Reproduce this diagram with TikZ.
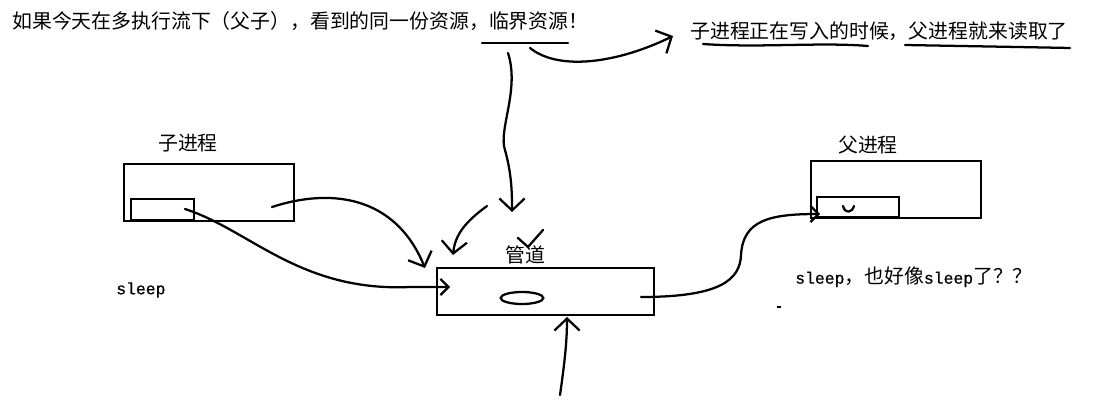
\documentclass[tikz,border=0pt]{standalone}
\usepackage{fontspec}
\newfontfamily\cjk{Noto Sans CJK SC}
\newfontfamily\lat{Liberation Mono}[FakeBold=0.8]
\usetikzlibrary{arrows.meta,fit,shapes.geometric}
\begin{document}
\begin{tikzpicture}[x=0.75pt,y=-0.75pt,
  box/.style={draw, line width=1.4pt, inner sep=0pt},
  lbl/.style={inner sep=0pt, font=\cjk\fontsize{14.9pt}{16pt}\selectfont},
  sl/.style={inner sep=0pt, font=\lat\fontsize{12.3pt}{14pt}\selectfont},
  pen/.style={line width=1.7pt, line cap=round, line join=round},
  bigtip/.style={pen, -{Straight Barb[length=9pt,width=19pt]}},
  smalltip/.style={pen, -{Straight Barb[length=6pt,width=12pt]}}]
\useasboundingbox[fill=white] (0,0) rectangle (1093,407);

% texts
\node[lbl, anchor=west] (top) at (12,21) {如果今天在多执行流下（父子），看到的同一份资源，临界资源！};
\node[lbl, anchor=west] (note) at (690,31) {子进程正在写入的时候，父进程就来读取了};
\node[sl, anchor=west] (sleepL) at (116,290) {sleep};
\node[inner sep=0pt, anchor=west] (sleepR) at (795,277) {{\lat\fontsize{12.3pt}{14pt}\selectfont sleep}{\cjk\fontsize{14.9pt}{16pt}\selectfont ，也好像}{\lat\fontsize{12.3pt}{14pt}\selectfont sleep}{\cjk\fontsize{14.9pt}{16pt}\selectfont 了？？}};

% boxes
\node[box, fit={(124,164) (294,221)}] (child) {};
\node[box, fit={(131,199) (194,220)}] (childbuf) {};
\node[lbl] (childlbl) at (188,143) {子进程};
\node[box, fit={(437,268) (654,315)}] (pipe) {};
\node[lbl] (pipelbl) at (525,255) {管道};
\node[draw, ellipse, line width=1.7pt, minimum width=32pt, minimum height=9pt, inner sep=0pt] (hole) at (522,298) {};
\node[box, fit={(811,161) (981,218)}] (parent) {};
\node[box, fit={(817,197) (899,217)}] (parbuf) {};
\node[lbl] (parlbl) at (868,145) {父进程};

% coordinates for free ends
\coordinate (ulA) at (482,43);
\coordinate (ulB) at (568,43);
\coordinate (topS) at (530,48);
\coordinate (topE) at (673,36);
\coordinate (vS) at (508,53);
\coordinate (vE) at (512,212);
\coordinate (c1S) at (272,207);
\coordinate (c1E) at (425,268);
\coordinate (c2S) at (185,209);
\coordinate (c2E) at (450,287);
\coordinate (pS) at (641,297);
\coordinate (pE) at (820,214);
\coordinate (bS) at (560,395);
\coordinate (bE) at (567,317);
\coordinate (sS) at (487,206);
\coordinate (sE) at (453,255);

% underlines
\draw[pen] (ulA) -- (ulB);
\draw[pen] (703,44) .. controls (760,48) and (820,42) .. (868,46);
\draw[pen] (905,45) .. controls (960,46) and (1020,47) .. (1070,48);

% arrows
\draw[bigtip] (topS) .. controls (560,72) and (620,62) .. (topE);
\draw[bigtip] (vS) .. controls (520,90) and (498,130) .. (505,150) .. controls (512,175) and (512,195) .. (vE);
\draw[bigtip] (c1S) .. controls (330,188) and (395,195) .. (c1E);
\draw[smalltip] (c2S) .. controls (250,230) and (300,292) .. (410,287) -- (c2E);
\draw[smalltip] (pS) .. controls (720,297) and (740,280) .. (741,255) .. controls (743,220) and (770,214) .. (pE);
\draw[bigtip] (bS) .. controls (565,360) and (567,340) .. (bE);
\draw[bigtip] (sS) .. controls (465,222) and (455,235) .. (sE);

% check mark above pipe, smile in parent buffer, small dash
\draw[pen] (518,238) -- (528,247) -- (543,230);
\draw[pen] (843,206) .. controls (845,214) and (852,213) .. (854,206);
\draw[line width=1.5pt] (777,307) -- (781,307);
\end{tikzpicture}
\end{document}
